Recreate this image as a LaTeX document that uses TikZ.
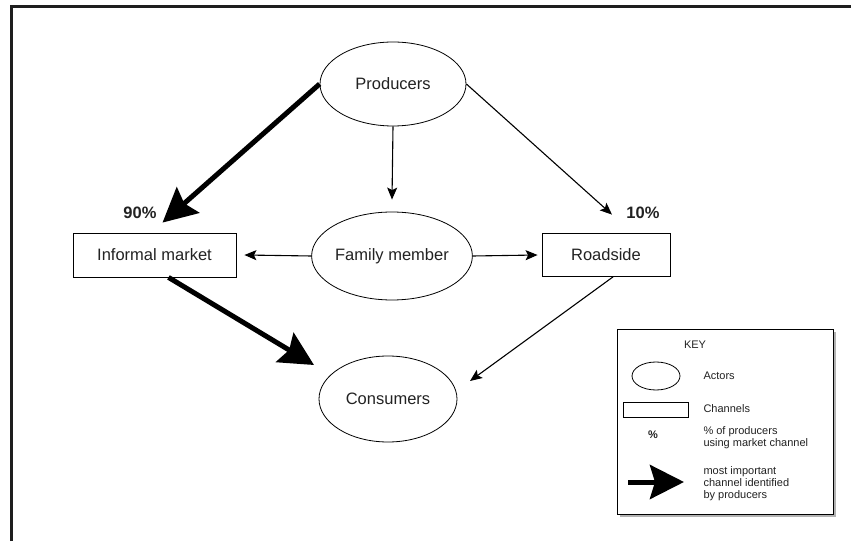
\documentclass[tikz,border=0pt]{standalone}
\usepackage{fontspec}
\setmainfont{Liberation Sans}
\usetikzlibrary{shapes.geometric,arrows.meta}
\definecolor{framegray}{HTML}{1E1E1E}
\definecolor{textgray}{HTML}{222222}
\begin{document}
\begin{tikzpicture}[x=1pt,y=1pt,
        actor/.style={draw, ellipse, line width=0.8pt, inner sep=0pt, text=textgray, font=\fontsize{16.5}{19}\selectfont},
        channel/.style={draw, rectangle, line width=0.8pt, inner sep=0pt, text=textgray, font=\fontsize{16.5}{19}\selectfont},
        share/.style={text=textgray, font=\fontsize{16.5}{19}\selectfont\bfseries},
        flow/.style={line width=1.1pt, -{Stealth[length=12pt,width=10pt,inset=2.5pt]}},
        mainflow/.style={line width=5pt, -{Stealth[length=34pt,width=34pt,inset=5pt]}},
        keytext/.style={anchor=west, align=left, text=textgray, font=\fontsize{11}{12}\selectfont}]
        \useasboundingbox (0,0) rectangle (851,541);
        % frame
        \draw[framegray, line width=3pt] (11,0) -- (11,534) -- (851,534);
        % actors and channels
        \node[actor, minimum width=146, minimum height=84] (prod) at (393,457) {Producers};
        \node[actor, minimum width=152, minimum height=88] (fam) at (392,285) {Family member};
        \node[actor, minimum width=138, minimum height=86] (cons) at (388,142) {Consumers};
        \node[channel, minimum width=163, minimum height=44] (inf) at (154.5,286) {Informal market};
        \node[channel, minimum width=128, minimum height=43] (road) at (606,286) {Roadside};
        \node[share] (p90) at (140,328) {90\%};
        \node[share] (p10) at (643,328) {10\%};
        % flows
        \draw[mainflow] (prod.west) -- ([shift={(8,10)}]inf.north);
        \draw[flow] (prod.south) -- ([yshift=12]fam.north);
        \draw[flow] (prod.east) -- ([shift={(6,18.5)}]road.north);
        \draw[flow] (fam.west) -- ([xshift=8]inf.east);
        \draw[flow] (fam.east) -- ([xshift=-4]road.west);
        \draw[mainflow] ([xshift=14]inf.south) -- ([shift={(-74,34)}]cons.center);
        \draw[flow] ([xshift=7]road.south) -- ([shift={(82,18)}]cons.center);
        % key
        \fill[gray!60] (620,24) rectangle (836,209);
        \draw[fill=white, line width=0.8pt] (617,27) rectangle (833,212);
        \node[text=textgray, font=\fontsize{11}{12}\selectfont] (keytitle) at (695,196) {KEY};
        \node[draw, ellipse, line width=0.8pt, minimum width=48, minimum height=28, inner sep=0pt] (keyactor) at (656,165) {};
        \node[keytext] (keyactortext) at (700,165) {Actors};
        \node[draw, rectangle, line width=0.8pt, minimum width=65, minimum height=15, inner sep=0pt] (keychannel) at (655.5,131.5) {};
        \node[keytext] (keychanneltext) at (700,132) {Channels};
        \node[text=textgray, font=\fontsize{11}{12}\selectfont\bfseries] (keyshare) at (653,106) {\%};
        \node[keytext] (keysharetext) at (700,103) {\% of producers\\using market channel};
        \coordinate (keyfrom) at (628,59);
        \coordinate (keyto) at (684,59);
        \draw[mainflow] (keyfrom) -- (keyto);
        \node[keytext] (keyflowtext) at (700,57) {most important\\channel identified\\by producers};
    \end{tikzpicture}
\end{document}
